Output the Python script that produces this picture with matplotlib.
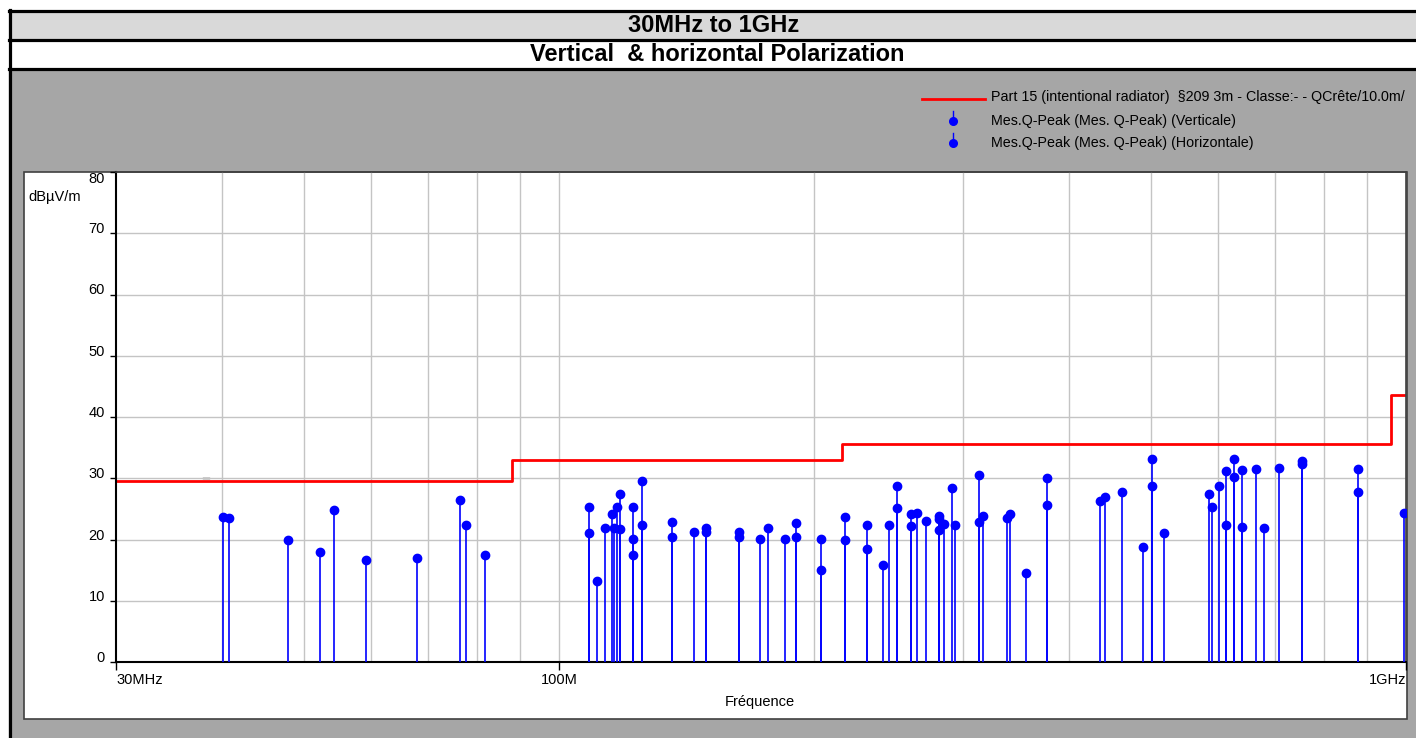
import matplotlib
matplotlib.use('Agg')
from matplotlib import pyplot as plt
from matplotlib.patches import Rectangle

plt.rcParams['font.family'] = ['Liberation Sans', 'DejaVu Sans']

# limit line (Part 15 §209, 3m converted to 10m)
limitFreq = [30, 88, 216, 960, 1000]
limitLevel = [29.54, 33.04, 35.54, 43.54, 43.54]

# Q-peak measurements, MHz / dBuV/m
vertFreq = [40.1, 47.9, 54.3, 68.0, 77.7, 108.6, 110.8, 115.5, 117.1, 118.1,
            122.3, 122.3, 125.3, 135.9, 144.3, 149.3, 163.2, 172.8, 185.1, 190.4,
            203.9, 217.7, 231.3, 241.2, 250.7, 260.5, 271.1, 280.8, 280.8, 291.2,
            312.9, 337.8, 355.5, 376.9, 441.7, 489.9, 501.9, 585.1, 602.1, 612.6,
            627.2, 640.5, 680.6, 753.2, 878.0]
vertLevel = [23.7, 19.9, 24.8, 17.0, 22.4, 25.3, 13.2, 24.2, 25.3, 27.4,
             25.3, 17.5, 29.5, 22.8, 21.3, 21.8, 21.3, 20.1, 20.1, 22.7,
             20.1, 23.6, 22.4, 15.9, 28.8, 24.1, 23.1, 23.8, 21.6, 28.4,
             30.5, 23.5, 14.5, 30.0, 26.9, 18.7, 33.2, 27.5, 28.8, 31.2,
             33.2, 31.3, 21.8, 32.8, 31.5]

horFreq = [40.8, 52.2, 59.2, 76.4, 81.7, 108.6, 113.3, 116.0, 118.1, 122.3,
           125.3, 135.9, 149.3, 163.2, 176.7, 190.4, 203.9, 217.7, 231.3, 245.6,
           250.7, 260.5, 264.6, 280.8, 284.9, 293.8, 312.9, 316.8, 340.6, 376.9,
           435.4, 462.6, 501.9, 517.3, 590.8, 612.6, 627.2, 640.5, 664.9, 708.3,
           753.2, 878.0, 993.3]
horLevel = [23.5, 17.9, 16.7, 26.4, 17.4, 21.0, 21.8, 21.8, 21.7, 20.1,
            22.4, 20.4, 21.2, 20.4, 21.8, 20.4, 15.1, 20.0, 18.5, 22.4,
            25.1, 22.2, 24.3, 23.4, 22.5, 22.4, 22.8, 23.9, 24.1, 25.6,
            26.3, 27.7, 28.8, 21.0, 25.3, 22.4, 30.2, 22.0, 31.5, 31.6,
            32.4, 27.7, 24.4]

gridFreq = [40, 50, 60, 70, 80, 90, 100, 200, 300, 400, 500, 600, 700, 800, 900]
xTicks = [30, 100, 1000]
xTickLabels = ['30MHz', '100M', '1GHz']
yTicks = [0, 10, 20, 30, 40, 50, 60, 70, 80]

W, H = 1416, 738
fig = plt.figure(figsize=(W / 100, H / 100), dpi=100)

# background / frame drawn in pixel coords
bg = fig.add_axes([0, 0, 1, 1], zorder=0)
bg.set_xlim(0, W)
bg.set_ylim(H, 0)
bg.axis('off')
bg.add_patch(Rectangle((0, 0), W, H, color='white'))
bg.add_patch(Rectangle((9, 11), W, 29, color='#d9d9d9'))
bg.add_patch(Rectangle((9, 69), W, H, color='#a6a6a6'))
bg.add_patch(Rectangle((24, 172), 1383, 547, facecolor='white', edgecolor='#404040', lw=1.2))
for yy in [11, 40, 69]:
    bg.plot([9, W], [yy, yy], color='black', lw=2.3)
bg.plot([9.5, 9.5], [10, H], color='black', lw=2.3)
bg.text(714, 25.5, '30MHz to 1GHz', ha='center', va='center', fontsize=17, fontweight='bold')
bg.text(717, 54.5, 'Vertical  & horizontal Polarization', ha='center', va='center',
        fontsize=17, fontweight='bold')

# legend
bg.plot([922, 985], [99, 99], color='red', lw=2)
bg.text(991, 97, 'Part 15 (intentional radiator)  §209 3m - Classe:- - QCrête/10.0m/',
        va='center', fontsize=10.3)
for yy, lab in [(121, 'Mes.Q-Peak (Mes. Q-Peak) (Verticale)'),
                (143, 'Mes.Q-Peak (Mes. Q-Peak) (Horizontale)')]:
    bg.plot([953, 953], [yy - 10, yy], color='blue', lw=1)
    bg.plot([953], [yy], 'o', color='blue', ms=5.5)
    bg.text(991, yy - 0.5, lab, va='center', fontsize=10.3)

bg.text(28, 197, 'dBµV/m', va='center', fontsize=10.5)
bg.plot([203, 209], [477.5, 477.5], color='black', lw=1)

# main chart
ax = fig.add_axes([116 / W, (H - 662) / H, 1290 / W, 490 / H], zorder=1)
ax.set_facecolor('none')
ax.set_xscale('log')
ax.set_xlim(30, 1000)
ax.set_ylim(0, 80)

for f in gridFreq:
    ax.axvline(f, color='#c4c4c4', lw=1, zorder=0)
for lv in yTicks[1:-1]:
    ax.axhline(lv, color='#c4c4c4', lw=1, zorder=0)

ax.step(limitFreq, limitLevel, where='post', color='red', lw=2, zorder=2)

ax.vlines(vertFreq, 0, vertLevel, color='blue', lw=1.2, zorder=3)
ax.vlines(horFreq, 0, horLevel, color='blue', lw=1.2, zorder=3)
ax.plot(vertFreq, vertLevel, 'o', color='blue', ms=6, zorder=4)
ax.plot(horFreq, horLevel, 'o', color='blue', ms=6, zorder=4)

ax.set_xticks(xTicks)
ax.set_xticklabels(xTickLabels)
ax.xaxis.set_minor_locator(matplotlib.ticker.NullLocator())
ax.set_yticks(yTicks)
ax.set_yticklabels([str(v) for v in yTicks])
ax.tick_params(axis='both', labelsize=10.5, direction='out', length=4, width=1,
               color='black', pad=2)
ax.tick_params(axis='y', pad=4)
ax.tick_params(axis='x', length=6)
for lab, ha in zip(ax.get_xticklabels(), ['left', 'center', 'right']):
    lab.set_ha(ha)
for tick in ax.yaxis.get_major_ticks():
    tick.label1.set_va('baseline')
ax.yaxis.get_major_ticks()[-1].label1.set_va('top')

for s in ['left', 'bottom']:
    ax.spines[s].set_color('black')
    ax.spines[s].set_linewidth(1.5)
for s in ['top', 'right']:
    ax.spines[s].set_color('#404040')
    ax.spines[s].set_linewidth(1.2)

ax.set_xlabel('Fréquence', fontsize=10.5, labelpad=2)
ax.xaxis.set_label_coords((760 - 116) / 1290, -0.068)

fig.savefig('out.png', dpi=100)
